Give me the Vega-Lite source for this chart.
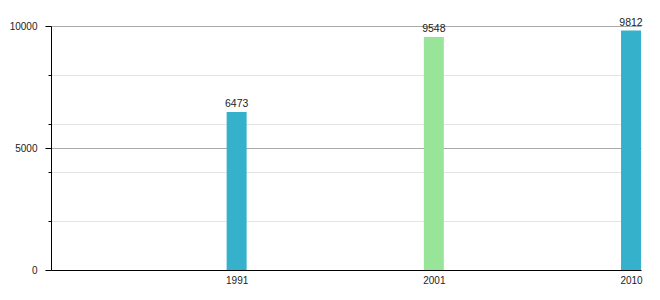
{
  "$schema": "https://vega.github.io/schema/vega-lite/v6.json",
  "width": 590,
  "height": 244,
  "autosize": "none",
  "padding": {"left": 51, "top": 26, "right": 19, "bottom": 30},
  "background": "white",
  "config": {"view": {"stroke": null}, "font": "Liberation Sans"},
  "data": {
    "values": [
      {"year": "1991", "population": 6473},
      {"year": "2001", "population": 9548},
      {"year": "2010", "population": 9812}
    ]
  },
  "encoding": {
    "x": {
      "field": "year",
      "type": "ordinal",
      "scale": {"type": "point", "padding": 0.496, "align": 0.949},
      "axis": {
        "title": null,
        "labelAngle": 0,
        "ticks": false,
        "domainColor": "#000000",
        "labelPadding": 5,
        "labelFontSize": 10,
        "labelColor": "#222222",
        "grid": false
      }
    },
    "y": {
      "field": "population",
      "type": "quantitative",
      "scale": {"domain": [0, 10000], "nice": false},
      "axis": {
        "title": null,
        "values": [0, 2000, 4000, 5000, 6000, 8000, 10000],
        "format": "d",
        "labelExpr": "datum.value % 5000 === 0 ? datum.label : ''",
        "grid": true,
        "gridColor": {"condition": {"test": "datum.value % 5000 === 0", "value": "#aaaaaa"}, "value": "#e4e4e4"},
        "tickSize": {"condition": {"test": "datum.value % 5000 === 0", "value": 6}, "value": 3},
        "tickColor": "#000000",
        "domainColor": "#000000",
        "labelPadding": 8,
        "labelFontSize": 10,
        "labelColor": "#222222"
      }
    }
  },
  "layer": [
    {
      "mark": {"type": "bar", "size": 20},
      "encoding": {
        "color": {"condition": {"test": "datum.year === '2001'", "value": "#98e498"}, "value": "#35b1cb"}
      }
    },
    {
      "mark": {"type": "text", "dy": -5, "baseline": "alphabetic", "fontSize": 10.5, "color": "#222222"},
      "encoding": {"text": {"field": "population", "type": "quantitative", "format": "d"}}
    }
  ]
}
